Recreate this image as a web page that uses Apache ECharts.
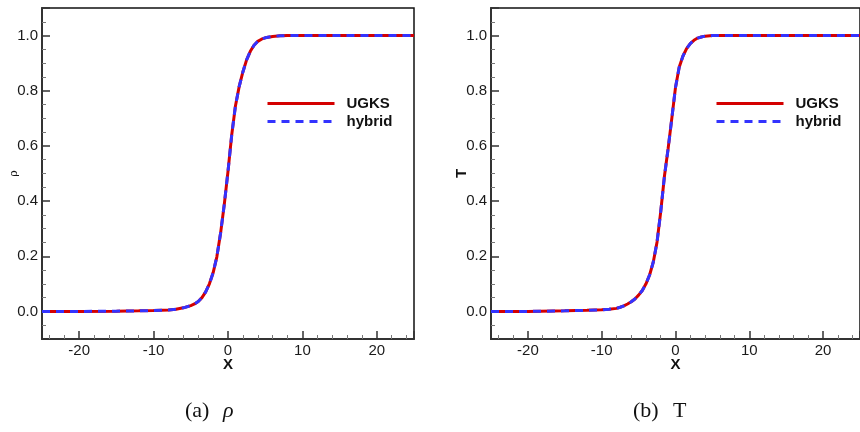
<!DOCTYPE html>
<html>
<head>
<meta charset="utf-8">
<script src="https://cdn.jsdelivr.net/npm/echarts@6/dist/echarts.min.js"></script>
<style>
html,body{margin:0;padding:0;background:#fff;}
#chart{width:860px;height:432px;}
</style>
</head>
<body>
<div id="chart"></div>
<script>
// ---- data ----
var xRho      = [-25, -20, -15, -12, -10, -8, -7, -6, -5, -4.5, -4, -3.5, -3, -2.5, -2, -1.5, -1, -0.5, 0, 0.5, 1, 1.5, 2, 2.5, 3, 3.5, 4, 4.5, 5, 6, 7, 8, 10, 15, 20, 25];
var rhoUGKS   = [0, 0, 0.001, 0.002, 0.003, 0.005, 0.008, 0.013, 0.021, 0.027, 0.036, 0.050, 0.071, 0.100, 0.140, 0.198, 0.283, 0.388, 0.508, 0.640, 0.745, 0.815, 0.868, 0.912, 0.943, 0.965, 0.979, 0.987, 0.992, 0.997, 0.999, 1.0, 1.0, 1.0, 1.0, 1.0];
var rhoHybrid = [0, 0, 0.001, 0.002, 0.003, 0.005, 0.008, 0.013, 0.021, 0.027, 0.036, 0.050, 0.071, 0.100, 0.140, 0.198, 0.283, 0.388, 0.508, 0.640, 0.745, 0.815, 0.868, 0.912, 0.943, 0.965, 0.979, 0.987, 0.992, 0.997, 0.999, 1.0, 1.0, 1.0, 1.0, 1.0];

var xT        = [-25, -20, -15, -12, -10, -9, -8, -7.5, -7, -6.5, -6, -5.5, -5, -4.5, -4, -3.5, -3, -2.5, -2, -1.5, -1, -0.5, 0, 0.5, 1, 1.5, 2, 2.5, 3, 3.5, 4, 5, 6, 10, 15, 20, 25];
var TUGKS     = [0, 0, 0.002, 0.004, 0.006, 0.008, 0.011, 0.015, 0.020, 0.027, 0.035, 0.045, 0.059, 0.076, 0.100, 0.133, 0.180, 0.252, 0.362, 0.490, 0.590, 0.700, 0.812, 0.885, 0.925, 0.953, 0.971, 0.983, 0.991, 0.995, 0.998, 1.0, 1.0, 1.0, 1.0, 1.0, 1.0];
var THybrid   = [0, 0, 0.002, 0.004, 0.006, 0.008, 0.011, 0.015, 0.020, 0.027, 0.035, 0.045, 0.059, 0.076, 0.100, 0.133, 0.180, 0.252, 0.362, 0.490, 0.590, 0.700, 0.812, 0.885, 0.925, 0.953, 0.971, 0.983, 0.991, 0.995, 0.998, 1.0, 1.0, 1.0, 1.0, 1.0, 1.0];

var seriesNames = ['UGKS', 'hybrid'];
var xAxisName = 'X';
var yAxisNames = ['ρ', 'T'];
var captionTags = ['(a)', '(b)'];
var captionVars = ['ρ', 'T'];

function pairs(xs, ys) { return xs.map(function (x, i) { return [x, ys[i]]; }); }

var FONT = 'Liberation Sans, Arial, sans-serif';
var RED = '#d40000', BLUE = '#3333ff';

function xAxisCfg(gi) {
  return {
    gridIndex: gi, type: 'value', min: -25, max: 25, splitNumber: 5,
    name: xAxisName, nameLocation: 'middle', nameGap: 18, nameMoveOverlap: false,
    nameTextStyle: { fontFamily: FONT, fontWeight: 'bold', fontSize: 15, color: '#111' },
    axisLine: { show: true, onZero: false, lineStyle: { color: '#333', width: 2 } },
    axisTick: { show: true, inside: true, length: 8, lineStyle: { color: '#333', width: 1.5 } },
    minorTick: { show: true, splitNumber: 5, length: 4, lineStyle: { color: '#777', width: 1 } },
    axisLabel: { showMinLabel: false, showMaxLabel: false, margin: 4, fontFamily: FONT, fontSize: 15, color: '#1a1a1a',
      formatter: function (v) { return (v % 10 === 0) ? String(v) : ''; } },
    splitLine: { show: false }
  };
}
function yAxisCfg(gi, name, gap, nameStyle) {
  return {
    gridIndex: gi, type: 'value', min: -0.1, max: 1.1, splitNumber: 6,
    name: name, nameLocation: 'middle', nameGap: gap, nameMoveOverlap: false,
    nameTextStyle: nameStyle,
    axisLine: { show: true, onZero: false, lineStyle: { color: '#333', width: 2 } },
    axisTick: { show: true, inside: true, length: 8, lineStyle: { color: '#333', width: 1.5 } },
    minorTick: { show: true, splitNumber: 4, length: 4, lineStyle: { color: '#777', width: 1 } },
    axisLabel: { showMinLabel: false, showMaxLabel: false, margin: 4, fontFamily: FONT, fontSize: 15, color: '#1a1a1a',
      formatter: function (v) { return v.toFixed(1); } },
    splitLine: { show: false }
  };
}
function lineSeries(name, gi, data, color, dashed, z) {
  return {
    name: name, type: 'line', xAxisIndex: gi, yAxisIndex: gi, data: data,
    smooth: false, symbol: 'none', showSymbol: false, z: z,
    lineStyle: { color: color, width: 3, type: dashed ? [8, 6] : 'solid' },
    itemStyle: { color: color }
  };
}
function legendCfg(left) {
  return {
    data: seriesNames, orient: 'vertical', left: left, top: 96, padding: 0,
    itemWidth: 67, itemHeight: 14, itemGap: 3,
    lineStyle: { width: 3 },
    itemStyle: { opacity: 0, borderWidth: 0 },
    textStyle: { fontFamily: FONT, fontWeight: 'bold', fontSize: 15, color: '#111', padding: [0, 0, 0, 7] }
  };
}

var capFont = '22px "Liberation Serif", serif';
var capFontIt = 'italic 22px "Liberation Serif", serif';

var chart = echarts.init(document.getElementById('chart'), null, { renderer: 'canvas' });
chart.setOption({
  animation: false,
  backgroundColor: '#fff',
  grid: [
    { left: 42, top: 8, width: 372, height: 331, show: true, borderColor: '#111', borderWidth: 1.5, backgroundColor: 'transparent' },
    { left: 491, top: 8, width: 372, height: 331, show: true, borderColor: '#111', borderWidth: 1.5, backgroundColor: 'transparent' }
  ],
  xAxis: [xAxisCfg(0), xAxisCfg(1)],
  yAxis: [
    yAxisCfg(0, yAxisNames[0], 22, { fontFamily: 'DejaVu Serif, serif', fontSize: 11, color: '#111' }),
    yAxisCfg(1, yAxisNames[1], 22, { fontFamily: FONT, fontWeight: 'bold', fontSize: 15, color: '#111' })
  ],
  legend: [legendCfg(266), legendCfg(715)],
  series: [
    lineSeries(seriesNames[0], 0, pairs(xRho, rhoUGKS), RED, false, 2),
    lineSeries(seriesNames[1], 0, pairs(xRho, rhoHybrid), BLUE, true, 3),
    lineSeries(seriesNames[0], 1, pairs(xT, TUGKS), RED, false, 2),
    lineSeries(seriesNames[1], 1, pairs(xT, THybrid), BLUE, true, 3)
  ],
  graphic: [
    { type: 'text', left: 185, top: 400, style: { text: captionTags[0], font: capFont, fill: '#111' } },
    { type: 'text', left: 223, top: 400, style: { text: captionVars[0], font: capFontIt, fill: '#111' } },
    { type: 'text', left: 633, top: 400, style: { text: captionTags[1], font: capFont, fill: '#111' } },
    { type: 'text', left: 673, top: 400, style: { text: captionVars[1], font: capFont, fill: '#111' } }
  ]
});
</script>
</body>
</html>
